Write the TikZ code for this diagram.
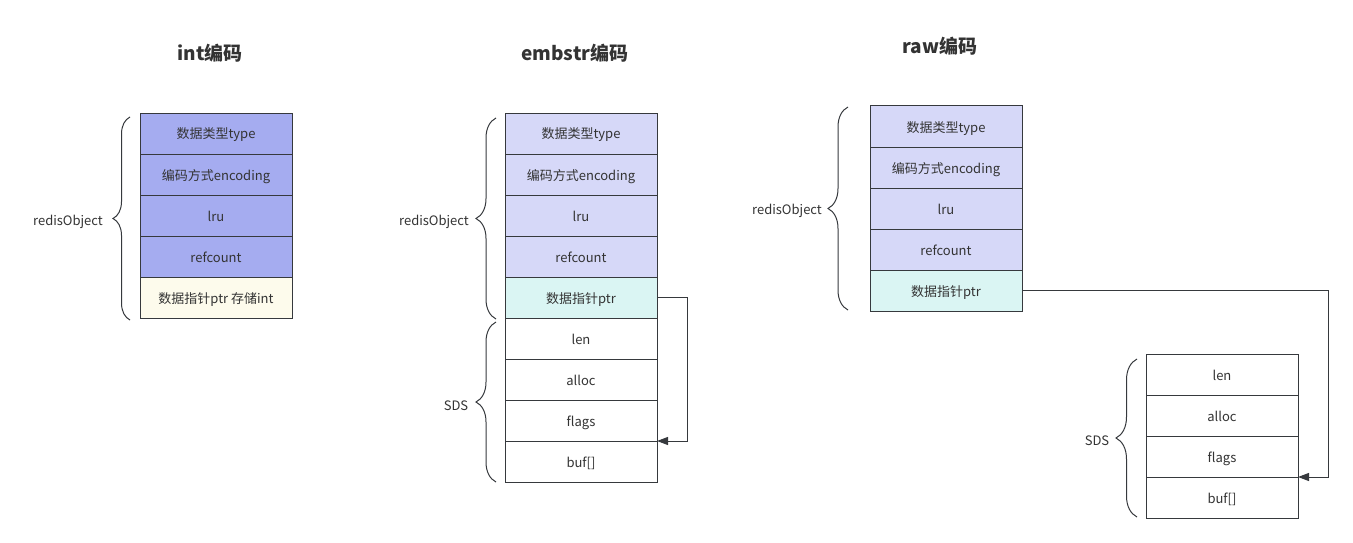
\documentclass[tikz,border=0pt]{standalone}
\usepackage{fontspec}
\setmainfont{Noto Sans CJK SC}
\usetikzlibrary{positioning,arrows.meta,decorations.pathreplacing}
\definecolor{bordc}{HTML}{36393D}
\definecolor{intc}{HTML}{A5ACF0}
\definecolor{objc}{HTML}{D6D8F8}
\definecolor{ptrc}{HTML}{DAF5F3}
\definecolor{creamc}{HTML}{FDFBEC}
\definecolor{txtc}{HTML}{333333}
\tikzset{
  cell/.style={draw=bordc,line width=1pt,minimum width=152pt,minimum height=41pt,outer sep=0pt,inner sep=0pt,text height=13pt,text depth=2pt,text=txtc,font=\fontsize{13}{15}\selectfont},
  titlestyle/.style={text=txtc,font=\fontsize{19}{22}\selectfont\bfseries},
  lbl/.style={text=txtc,text height=13pt,text depth=2pt,font=\fontsize{13}{15}\selectfont},
  brc/.style={draw=bordc,line width=1pt,decorate,decoration={brace,amplitude=#1,aspect=0.5}},
  link/.style={draw=bordc,line width=1pt,-{Triangle[length=11pt,width=8pt]}}
}
\begin{document}
\begin{tikzpicture}[x=1pt,y=-1pt]
\useasboundingbox (0,0) rectangle (1353,543);
% titles
\node[titlestyle] (t1) at (210,53) {int编码};
\node[titlestyle] (t2) at (575,53) {embstr编码};
\node[titlestyle] (t3) at (940,46) {raw编码};
% int block
\node[cell,fill=intc,anchor=north west] (i1) at (140,113) {数据类型type};
\node[cell,fill=intc,below=0pt of i1] (i2) {编码方式encoding};
\node[cell,fill=intc,below=0pt of i2] (i3) {lru};
\node[cell,fill=intc,below=0pt of i3] (i4) {refcount};
\node[cell,fill=creamc,below=0pt of i4] (i5) {数据指针ptr 存储int};
\draw[brc=17pt] (130,320) -- (130,117);
\node[lbl] (il) at (68,220) {redisObject};
% embstr block
\node[cell,fill=objc,anchor=north west] (e1) at (505,113) {数据类型type};
\node[cell,fill=objc,below=0pt of e1] (e2) {编码方式encoding};
\node[cell,fill=objc,below=0pt of e2] (e3) {lru};
\node[cell,fill=objc,below=0pt of e3] (e4) {refcount};
\node[cell,fill=ptrc,below=0pt of e4] (e5) {数据指针ptr};
\node[cell,fill=white,below=0pt of e5] (e6) {len};
\node[cell,fill=white,below=0pt of e6] (e7) {alloc};
\node[cell,fill=white,below=0pt of e7] (e8) {flags};
\node[cell,fill=white,below=0pt of e8] (e9) {buf[]};
\draw[brc=20pt] (496,319) -- (496,118);
\draw[brc=20pt] (496,482) -- (496,322);
\node[lbl] (el) at (434,220) {redisObject};
\node[lbl] (es) at (456,405) {SDS};
\draw[link] (e5.east) -- ++(30,0) |- (e8.south east);
% raw block
\node[cell,fill=objc,anchor=north west] (r1) at (870,106) {数据类型type};
\node[cell,fill=objc,below=0pt of r1] (r2) {编码方式encoding};
\node[cell,fill=objc,below=0pt of r2] (r3) {lru};
\node[cell,fill=objc,below=0pt of r3] (r4) {refcount};
\node[cell,fill=ptrc,below=0pt of r4] (r5) {数据指针ptr};
\draw[brc=20pt] (848,310) -- (848,107);
\node[lbl] (rl) at (787,209) {redisObject};
% raw SDS
\node[cell,fill=white,anchor=north west] (s1) at (1146,354) {len};
\node[cell,fill=white,below=0pt of s1] (s2) {alloc};
\node[cell,fill=white,below=0pt of s2] (s3) {flags};
\node[cell,fill=white,below=0pt of s3] (s4) {buf[]};
\draw[brc=21pt] (1137,517) -- (1137,359);
\node[lbl] (sl) at (1097,440) {SDS};
\draw[link] (r5.east) -- ++(306,0) |- (s3.south east);
\end{tikzpicture}
\end{document}
